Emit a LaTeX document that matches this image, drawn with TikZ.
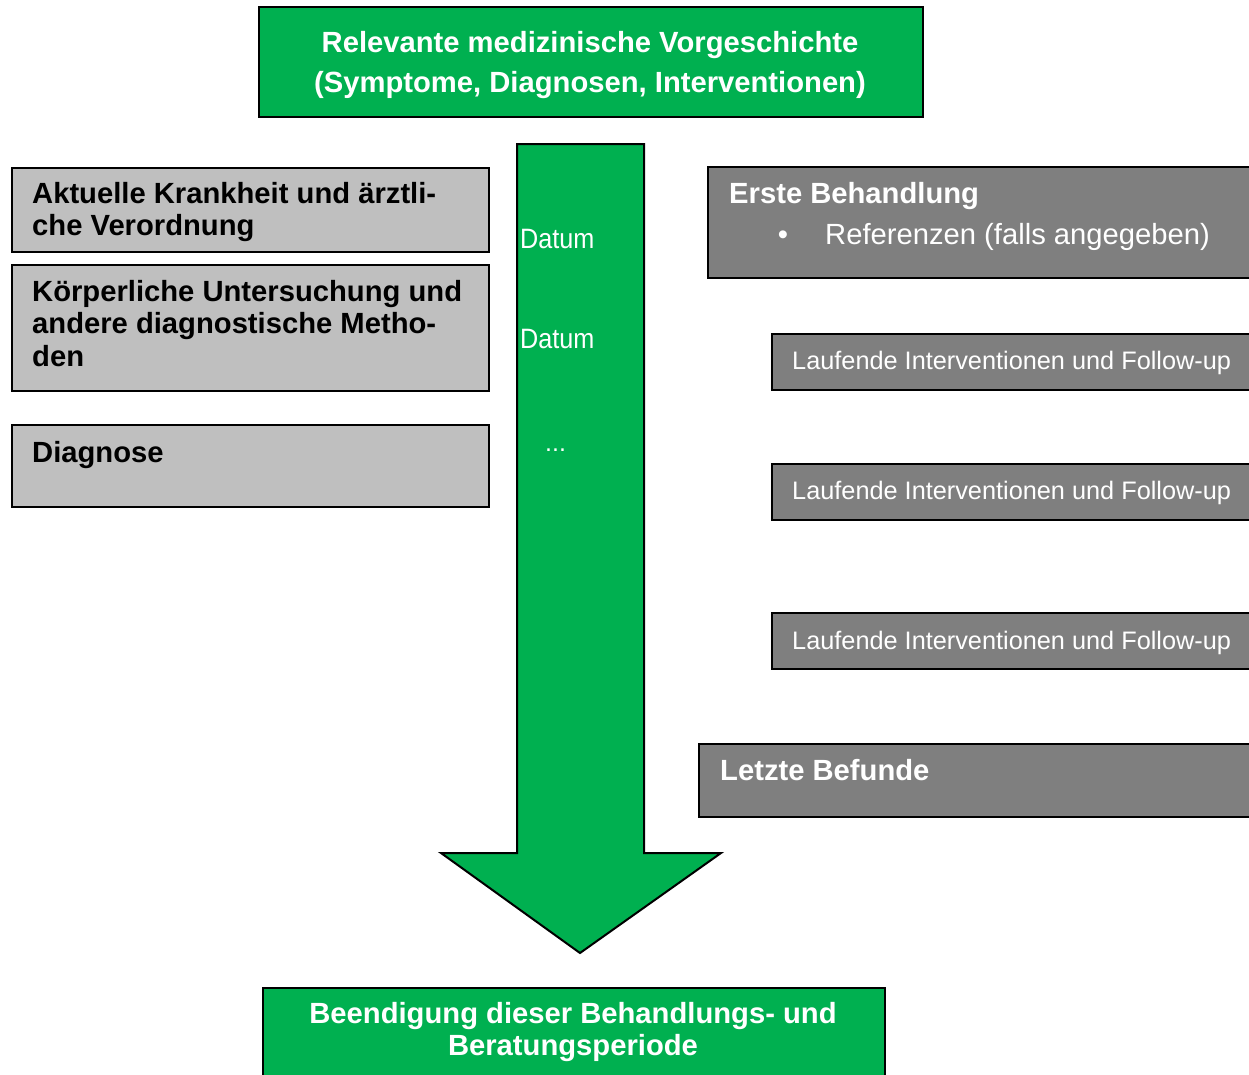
\documentclass[tikz,border=0pt]{standalone}
\usepackage{fontspec}
\setmainfont{Liberation Sans}
\newfontfamily\condfont[FakeStretch=0.9]{Liberation Sans}
\definecolor{medgreen}{HTML}{00B050}
\definecolor{lgrey}{HTML}{BFBFBF}
\definecolor{dgrey}{HTML}{7F7F7F}
\tikzset{
  boxbase/.style={draw=black, line width=2pt, inner sep=0pt, anchor=north west},
  greenbox/.style={boxbase, fill=medgreen},
  lightbox/.style={boxbase, fill=lgrey},
  darkbox/.style={boxbase, fill=dgrey},
  boldtxt/.style={inner sep=0pt, font=\fontsize{29.2}{32}\selectfont\bfseries},
  regtxt/.style={inner sep=0pt, font=\fontsize{29.2}{32}\selectfont},
  smalltxt/.style={inner sep=0pt, font=\fontsize{25.3}{30}\selectfont, text=white},
  datetxt/.style={inner sep=0pt, font=\fontsize{28}{30}\selectfont\condfont, text=white}
}
\begin{document}
\begin{tikzpicture}[x=1pt,y=-1pt]
\useasboundingbox (0,0) rectangle (1249,1074);
\clip (0,0) rectangle (1249,1074);

% block arrow
\filldraw[fill=medgreen, draw=black, line width=2pt, line join=miter]
  (517,144) -- (644,144) -- (644,853) -- (721,853) -- (580,953)
  -- (441,853) -- (517,853) -- cycle;

% top and bottom green boxes
\node[greenbox, minimum width=664pt, minimum height=110pt] (top) at (258,6) {};
\node[boldtxt, text=white, anchor=base] (top1) at (590,52) {Relevante medizinische Vorgeschichte};
\node[boldtxt, text=white, anchor=base] (top2) at (590,92) {(Symptome, Diagnosen, Interventionen)};

\node[greenbox, minimum width=622pt, minimum height=100pt] (bot) at (262,987) {};
\node[boldtxt, text=white, anchor=base] (bot1) at (573,1023) {Beendigung dieser Behandlungs- und};
\node[boldtxt, text=white, anchor=base] (bot2) at (573,1055) {Beratungsperiode};

% left boxes
\node[lightbox, minimum width=477pt, minimum height=84pt] (l1) at (11,167) {};
\node[boldtxt, anchor=base west] (l1a) at (32,203) {Aktuelle Krankheit und ärztli-};
\node[boldtxt, anchor=base west] (l1b) at (32,235) {che Verordnung};

\node[lightbox, minimum width=477pt, minimum height=126pt] (l2) at (11,264) {};
\node[boldtxt, anchor=base west] (l2a) at (32,301) {Körperliche Untersuchung und};
\node[boldtxt, anchor=base west] (l2b) at (32,333) {andere diagnostische Metho-};
\node[boldtxt, anchor=base west] (l2c) at (32,366) {den};

\node[lightbox, minimum width=477pt, minimum height=82pt] (l3) at (11,424) {};
\node[boldtxt, anchor=base west] (l3a) at (32,462) {Diagnose};

% dates on arrow
\node[datetxt, anchor=base west] (d1) at (520,248) {Datum};
\node[datetxt, anchor=base west] (d2) at (520,348) {Datum};
\node[inner sep=0pt, font=\fontsize{25}{28}\selectfont, text=white, anchor=base west] (d3) at (545,451) {...};

% right boxes
\node[darkbox, minimum width=560pt, minimum height=111pt] (r1) at (707,166) {};
\node[boldtxt, text=white, anchor=base west] (r1a) at (729,203) {Erste Behandlung};
\node[regtxt, text=white, anchor=base] (r1bul) at (783,244) {•};
\node[regtxt, text=white, anchor=base west] (r1b) at (825,244) {Referenzen (falls angegeben)};

\node[darkbox, minimum width=500pt, minimum height=56pt] (r2) at (771,333) {};
\node[smalltxt, anchor=base west] (r2a) at (792,369) {Laufende Interventionen und Follow-up};

\node[darkbox, minimum width=500pt, minimum height=56pt] (r3) at (771,463) {};
\node[smalltxt, anchor=base west] (r3a) at (792,499) {Laufende Interventionen und Follow-up};

\node[darkbox, minimum width=500pt, minimum height=56pt] (r4) at (771,612) {};
\node[smalltxt, anchor=base west] (r4a) at (792,649) {Laufende Interventionen und Follow-up};

\node[darkbox, minimum width=570pt, minimum height=73pt] (r5) at (698,743) {};
\node[boldtxt, text=white, anchor=base west] (r5a) at (720,780) {Letzte Befunde};
\end{tikzpicture}
\end{document}
